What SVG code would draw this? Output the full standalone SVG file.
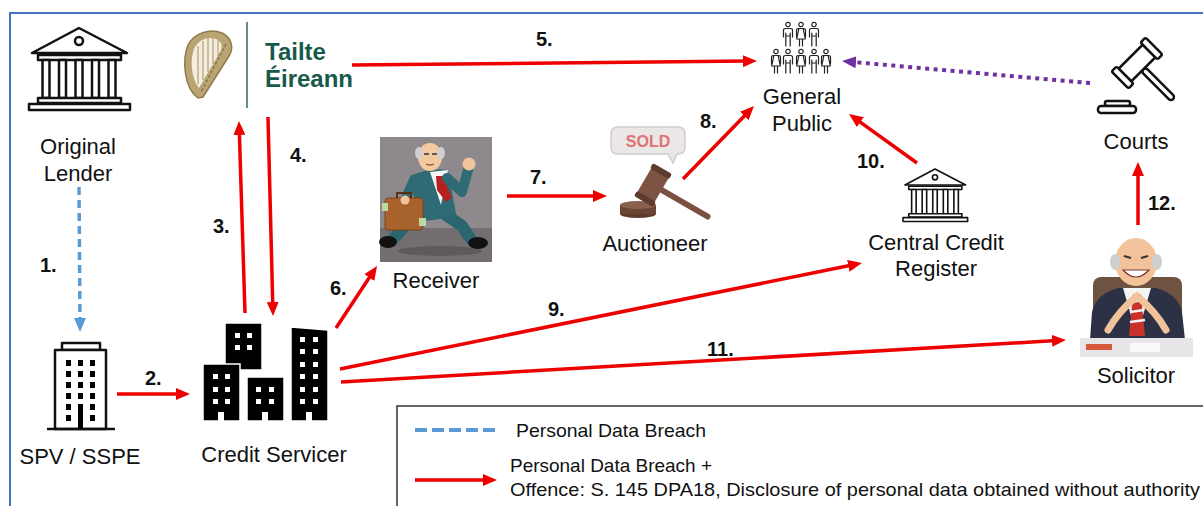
<svg xmlns="http://www.w3.org/2000/svg" width="1203" height="506" viewBox="0 0 1203 506">
<defs>
<style>
.lbl{font-family:"Liberation Sans",Arial,sans-serif;font-size:22px;fill:#111;text-anchor:middle}
.num{font-family:"Liberation Sans",Arial,sans-serif;font-size:20px;font-weight:bold;fill:#111}
.leg{font-family:"Liberation Sans",Arial,sans-serif;font-size:19px;fill:#111}
.te{font-family:"Liberation Sans",Arial,sans-serif;font-size:24px;font-weight:bold;fill:#17594a}
.red{stroke:#ee0000;stroke-width:3.5;fill:none;marker-end:url(#ahRed)}
.blue{stroke:#5b9bd5;stroke-width:3.5;fill:none;stroke-dasharray:8 5}
.purple{stroke:#7030a0;stroke-width:4;fill:none;stroke-dasharray:4 4.5;marker-end:url(#ahPurple)}
.ol{fill:#fff;stroke:#111;stroke-width:2.5;stroke-linejoin:round}
.fig{fill:none;stroke:#222;stroke-width:1.2;stroke-linecap:round;stroke-linejoin:round}
.blk{fill:#000;stroke:#fff;stroke-width:1.5}
.win{fill:#fff}
.sblk{fill:#000}
</style>
<marker id="ahRed" markerUnits="userSpaceOnUse" markerWidth="14" markerHeight="12" viewBox="0 0 14 12" refX="4" refY="6" orient="auto"><path d="M0,0 L14,6 L0,12 Z" fill="#ee0000"/></marker>
<marker id="ahBlue" markerUnits="userSpaceOnUse" markerWidth="14" markerHeight="12" viewBox="0 0 14 12" refX="4" refY="6" orient="auto"><path d="M0,0 L14,6 L0,12 Z" fill="#5b9bd5"/></marker>
<marker id="ahPurple" markerUnits="userSpaceOnUse" markerWidth="14" markerHeight="12" viewBox="0 0 14 12" refX="4" refY="6" orient="auto"><path d="M0,0 L14,6 L0,12 Z" fill="#7030a0"/></marker>
<g id="bankIcon">
<path d="M3,25 L50,0 L98,25 Z" class="ol"/>
<circle cx="50" cy="13" r="4" class="ol"/>
<rect x="9" y="27" width="83" height="5" class="ol"/>
<rect x="13.5" y="32" width="7" height="38" class="ol"/>
<rect x="30" y="32" width="7" height="38" class="ol"/>
<rect x="46.5" y="32" width="7" height="38" class="ol"/>
<rect x="63" y="32" width="7" height="38" class="ol"/>
<rect x="79.5" y="32" width="7" height="38" class="ol"/>
<rect x="9" y="70" width="83" height="5" class="ol"/>
<rect x="0" y="76" width="101" height="6" class="ol"/>
</g>
<g id="man">
<circle cx="0" cy="2.5" r="2.2" class="fig"/>
<path class="fig" d="M-4.5,15 V8.5 Q-4.5,6.5 -2.5,6.5 H2.5 Q4.5,6.5 4.5,8.5 V15 M-2.2,24 V11 M2.2,24 V11 M-2.2,14 H2.2"/>
</g>
<g id="woman">
<circle cx="0" cy="2.5" r="2.2" class="fig"/>
<path class="fig" d="M-4.5,15 V8.5 Q-4.5,6.5 -2.5,6.5 H2.5 Q4.5,6.5 4.5,8.5 V15 M-2.2,7 L-4.3,17 H4.3 L2.2,7 M-1.5,17 V24 M1.5,17 V24"/>
</g>
</defs>

<rect x="0" y="0" width="1203" height="506" fill="#fff"/>
<path d="M10,506 V13 H1203" fill="none" stroke="#4472c4" stroke-width="2"/>

<g id="original-lender">
<use href="#bankIcon" transform="translate(29,28)"/>
<text class="lbl" x="78" y="154">Original</text>
<text class="lbl" x="78" y="181">Lender</text>
</g>

<g id="tailte-eireann">
<path d="M198,98 C184,88 182,60 188,45 C194,33 210,28 222,33 C232,38 234,48 229,56 L203,97 Z" fill="#b9a574" stroke="#8f7a4c" stroke-width="1.5"/>
<path d="M199,88 C191,78 190,60 194,49 C198,40 208,36 216,39 C222,42 223,47 220,52 Z" fill="#f3eedf"/>
<path d="M198,46 V84 M203,41 V80 M208,38 V72 M213,38 V64 M218,40 V56" stroke="#a48d5c" stroke-width="1"/>
<path d="M226,44 L201,92" stroke="#7d6a40" stroke-width="1.2" stroke-dasharray="3 2"/>
<line x1="247" y1="22" x2="247" y2="108" stroke="#2f6b5e" stroke-width="1.5"/>
<text class="te" x="265" y="60">Tailte</text>
<text class="te" x="265" y="87">Éireann</text>
</g>

<g id="general-public">
<use href="#man" transform="translate(788,22)"/>
<use href="#woman" transform="translate(801,22)"/>
<use href="#man" transform="translate(814,22)"/>
<use href="#woman" transform="translate(776,49)"/>
<use href="#man" transform="translate(788,49)"/>
<use href="#woman" transform="translate(801,49)"/>
<use href="#man" transform="translate(814,49)"/>
<use href="#woman" transform="translate(826,49)"/>
<text class="lbl" x="802" y="104">General</text>
<text class="lbl" x="802" y="131">Public</text>
</g>

<g id="courts">
<g transform="translate(1137,63) rotate(-45)">
<rect x="-3" y="9" width="6" height="42" rx="3" class="ol"/>
<rect x="-17" y="-9" width="34" height="18" class="ol"/>
<rect x="-24" y="-12" width="7" height="24" rx="2" class="ol"/>
<rect x="17" y="-12" width="7" height="24" rx="2" class="ol"/>
</g>
<rect x="1105" y="101" width="25" height="5" rx="2" class="ol"/>
<rect x="1098" y="106" width="38" height="7" rx="3" class="ol"/>
<text class="lbl" x="1136" y="149">Courts</text>
</g>

<g id="spv-sspe">
<rect x="62" y="343" width="38" height="7" class="ol"/>
<rect x="55" y="350" width="51" height="79" class="ol"/>
<line x1="47" y1="429" x2="115" y2="429" stroke="#111" stroke-width="2.5"/>
<g class="sblk">
<rect x="66" y="360" width="5" height="6"/><rect x="78" y="360" width="5" height="6"/><rect x="90" y="360" width="5" height="6"/>
<rect x="66" y="371" width="5" height="6"/><rect x="78" y="371" width="5" height="6"/><rect x="90" y="371" width="5" height="6"/>
<rect x="66" y="382" width="5" height="6"/><rect x="78" y="382" width="5" height="6"/><rect x="90" y="382" width="5" height="6"/>
<rect x="66" y="393" width="5" height="6"/><rect x="78" y="393" width="5" height="6"/><rect x="90" y="393" width="5" height="6"/>
<rect x="66" y="404" width="5" height="6"/><rect x="78" y="404" width="5" height="25"/><rect x="90" y="404" width="5" height="6"/>
<rect x="66" y="415" width="5" height="6"/><rect x="90" y="415" width="5" height="6"/>
</g>
<text class="lbl" x="80" y="464">SPV / SSPE</text>
</g>

<g id="credit-servicer">
<rect x="225" y="323" width="37" height="47" class="blk"/>
<rect x="203" y="364" width="37" height="57" class="blk"/>
<rect x="247" y="377" width="37" height="44" class="blk"/>
<path d="M291,327 L328,330 V421 H291 Z" class="blk"/>
<g class="win">
<rect x="235" y="333" width="5" height="5"/><rect x="247" y="333" width="5" height="5"/>
<rect x="235" y="345" width="5" height="5"/><rect x="247" y="345" width="5" height="5"/>
<rect x="213" y="374" width="5" height="5"/><rect x="225" y="374" width="5" height="5"/>
<rect x="213" y="387" width="5" height="5"/><rect x="225" y="387" width="5" height="5"/>
<rect x="213" y="399" width="5" height="5"/><rect x="225" y="399" width="5" height="5"/>
<rect x="218" y="412" width="6" height="10"/>
<rect x="256" y="387" width="5" height="5"/><rect x="269" y="387" width="5" height="5"/>
<rect x="256" y="399" width="5" height="5"/><rect x="269" y="399" width="5" height="5"/>
<rect x="262" y="412" width="6" height="10"/>
<rect x="300" y="337" width="5" height="5"/><rect x="313" y="337" width="5" height="5"/>
<rect x="300" y="349" width="5" height="5"/><rect x="313" y="349" width="5" height="5"/>
<rect x="300" y="362" width="5" height="5"/><rect x="313" y="362" width="5" height="5"/>
<rect x="300" y="374" width="5" height="5"/><rect x="313" y="374" width="5" height="5"/>
<rect x="300" y="387" width="5" height="5"/><rect x="313" y="387" width="5" height="5"/>
<rect x="300" y="399" width="5" height="5"/><rect x="313" y="399" width="5" height="5"/>
<rect x="306" y="412" width="6" height="10"/>
</g>
<text class="lbl" x="274" y="462">Credit Servicer</text>
</g>

<g id="receiver">
<rect x="380" y="137" width="112" height="125" fill="#8e898c"/>
<rect x="380" y="228" width="112" height="34" fill="#736e72"/>
<ellipse cx="440" cy="251" rx="42" ry="5" fill="#4f4b4e" opacity="0.6"/>
<path d="M428,212 L405,226 L394,238" stroke="#2b6570" stroke-width="12" fill="none" stroke-linecap="round"/>
<path d="M442,212 L462,226 L470,238" stroke="#2b6570" stroke-width="12" fill="none" stroke-linecap="round"/>
<ellipse cx="388" cy="242" rx="9" ry="6" fill="#111"/>
<ellipse cx="478" cy="243" rx="10" ry="6" fill="#111"/>
<path d="M410,176 Q428,168 448,170 L456,214 Q438,222 418,220 Z" fill="#2e6b74"/>
<path d="M430,172 L448,170 L441,205 Z" fill="#f4f4f4"/>
<path d="M436,176 L443,176 L452,198 L446,202 L437,190 Z" fill="#b52020"/>
<path d="M447,178 L462,192 L468,170" stroke="#2e6b74" stroke-width="10" fill="none" stroke-linecap="round" stroke-linejoin="round"/>
<circle cx="469" cy="164" r="6.5" fill="#f1c49b"/>
<path d="M414,180 L405,200" stroke="#2e6b74" stroke-width="10" fill="none" stroke-linecap="round"/>
<rect x="385" y="198" width="38" height="32" rx="3" fill="#a8622c" stroke="#7a4418" stroke-width="1"/>
<path d="M397,198 V193 H411 V198" fill="none" stroke="#5a3210" stroke-width="2"/>
<rect x="382" y="203" width="6" height="8" fill="#b9dba3"/>
<rect x="419" y="218" width="7" height="8" fill="#b9dba3"/>
<circle cx="405" cy="200" r="4.5" fill="#f1c49b"/>
<ellipse cx="430" cy="157" rx="12" ry="14" fill="#f3c9a0"/>
<ellipse cx="419" cy="153" rx="4" ry="6" fill="#d0d0d0"/>
<ellipse cx="441" cy="153" rx="4" ry="6" fill="#d0d0d0"/>
<path d="M424,154 h5 M432,154 h5" stroke="#333" stroke-width="1.6"/>
<path d="M426,164 q4,2 8,0" stroke="#8a4a30" stroke-width="1.3" fill="none"/>
<text class="lbl" x="436" y="288">Receiver</text>
</g>

<g id="auctioneer">
<path d="M618,127 H678 Q685,127 685,134 V147 Q685,154 678,154 H677 L673,163 L668,154 H618 Q611,154 611,147 V134 Q611,127 618,127 Z" fill="#ebe7e7" stroke="#d2cccc" stroke-width="1.5"/>
<text x="648" y="147" text-anchor="middle" font-family="Liberation Sans, Arial, sans-serif" font-size="16" font-weight="bold" fill="#e07272">SOLD</text>
<ellipse cx="638" cy="214" rx="18" ry="4" fill="#5e3b2c"/>
<rect x="620" y="205" width="36" height="9" fill="#6b4434"/>
<ellipse cx="638" cy="205" rx="18" ry="4" fill="#8a5f4c"/>
<g transform="translate(653,185) rotate(30)">
<rect x="8" y="-3" width="58" height="6" rx="3" fill="#7a5040"/>
<rect x="-10" y="-17" width="20" height="34" rx="3" fill="#7d5343"/>
<rect x="-11" y="-19" width="22" height="6" rx="2" fill="#5e3b2c"/>
<rect x="-11" y="13" width="22" height="6" rx="2" fill="#5e3b2c"/>
</g>
<text class="lbl" x="655" y="251">Auctioneer</text>
</g>

<g id="central-credit-register">
<use href="#bankIcon" transform="translate(903,169) scale(0.64)"/>
<text class="lbl" x="936" y="250">Central Credit</text>
<text class="lbl" x="936" y="276">Register</text>
</g>

<g id="solicitor">
<rect x="1093" y="277" width="89" height="55" rx="8" fill="#6e5242"/>
<path d="M1090,340 L1092,312 Q1096,294 1118,288 L1156,288 Q1178,294 1182,312 L1185,340 Z" fill="#2c3146"/>
<path d="M1123,288 L1151,288 L1137,336 Z" fill="#f4f4f4"/>
<path d="M1133,294 L1141,294 L1145,336 L1129,336 Z" fill="#c8302a"/>
<path d="M1131,302 L1143,300 M1130,312 L1144,310 M1130,322 L1145,320" stroke="#f4f4f4" stroke-width="2.5"/>
<path d="M1108,330 Q1118,312 1137,296 Q1156,312 1166,330" fill="none" stroke="#f2c29a" stroke-width="7" stroke-linecap="round"/>
<ellipse cx="1136" cy="262" rx="21" ry="24" fill="#f2c29a"/>
<ellipse cx="1115" cy="262" rx="5" ry="8" fill="#cfcfcf"/>
<ellipse cx="1157" cy="262" rx="5" ry="8" fill="#cfcfcf"/>
<path d="M1124,256 l7,2 M1148,256 l-7,2" stroke="#333" stroke-width="2"/>
<path d="M1123,270 Q1136,284 1149,270 Z" fill="#fff" stroke="#7a3a2a" stroke-width="1.2"/>
<rect x="1080" y="338" width="113" height="19" fill="#e6e6e8"/>
<rect x="1086" y="344" width="26" height="6" fill="#d65a3a"/>
<rect x="1130" y="343" width="30" height="9" fill="#fafafa"/>
<text class="lbl" x="1136" y="383">Solicitor</text>
</g>

<g id="connectors">
<line class="blue" x1="79" y1="187" x2="80" y2="322" marker-end="url(#ahBlue)"/>
<line class="red" x1="117" y1="394" x2="180" y2="394"/>
<line class="red" x1="245" y1="313" x2="239.3" y2="131"/>
<line class="red" x1="268" y1="117" x2="272.8" y2="306"/>
<line class="red" x1="352" y1="65" x2="747" y2="61.1"/>
<line class="red" x1="336" y1="328" x2="371.5" y2="274.3"/>
<line class="red" x1="507" y1="196" x2="597" y2="196"/>
<line class="red" x1="683" y1="179" x2="747" y2="113.2"/>
<line class="red" x1="340" y1="369" x2="852.2" y2="265"/>
<line class="red" x1="917" y1="163" x2="857.1" y2="119.8"/>
<line class="red" x1="341" y1="382" x2="1056" y2="340.6"/>
<line class="red" x1="1138" y1="225" x2="1138" y2="172"/>
<line class="purple" x1="1090" y1="83" x2="852" y2="61.9"/>
<text class="num" x="40" y="272">1.</text>
<text class="num" x="145" y="385">2.</text>
<text class="num" x="213" y="233">3.</text>
<text class="num" x="290" y="162">4.</text>
<text class="num" x="536" y="46">5.</text>
<text class="num" x="330" y="295">6.</text>
<text class="num" x="530" y="184">7.</text>
<text class="num" x="700" y="128">8.</text>
<text class="num" x="548" y="316">9.</text>
<text class="num" x="857" y="168">10.</text>
<text class="num" x="707" y="356">11.</text>
<text class="num" x="1148" y="210">12.</text>
</g>

<g id="legend">
<rect x="397" y="406" width="830" height="120" fill="#fff" stroke="#333" stroke-width="1.5"/>
<line x1="415" y1="430" x2="497" y2="430" stroke="#5b9bd5" stroke-width="4" stroke-dasharray="12 5"/>
<text class="leg" x="516" y="437" textLength="190" lengthAdjust="spacingAndGlyphs">Personal Data Breach</text>
<line class="red" x1="415" y1="480" x2="487" y2="480"/>
<text class="leg" x="510" y="472" textLength="202" lengthAdjust="spacingAndGlyphs">Personal Data Breach +</text>
<text class="leg" x="510" y="496" textLength="690" lengthAdjust="spacingAndGlyphs">Offence: S. 145 DPA18, Disclosure of personal data obtained without authority</text>
</g>
</svg>
